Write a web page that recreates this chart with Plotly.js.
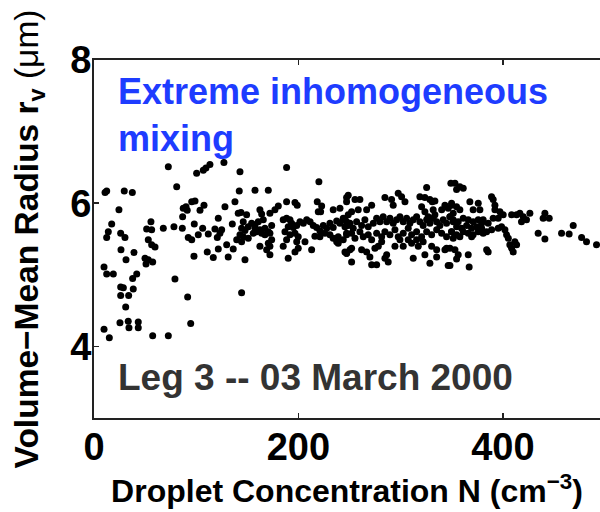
<!DOCTYPE html>
<html>
<head>
<meta charset="utf-8">
<script src="https://cdn.plot.ly/plotly-3.0.1.min.js"></script>
<style>
html,body{margin:0;padding:0;background:#fff;overflow:hidden;}
#chart{width:600px;height:512px;}
</style>
</head>
<body>
<div id="chart"></div>
<script>
// Droplet concentration N (cm^-3)
const concentration = [
72.7,80.9,100.4,106.9,109.5,113.4,127.1,142.8,10.8,12.4,29.6,37.5,24.4,17.3,14.0,12.4,26.1,30.3,26.4,31.3,
39.1,9.8,12.4,18.9,37.8,41.8,26.1,28.7,38.4,26.1,33.9,31.0,25.4,33.5,34.2,43.3,43.3,9.8,15.0,57.4,
72.7,55.7,51.5,56.4,53.1,56.4,59.7,49.9,53.1,50.9,57.4,67.8,78.2,86.4,79.2,91.6,94.6,87.3,90.0,91.2,
86.7,95.6,98.8,103.7,107.6,98.1,92.2,95.6,102.0,106.3,111.8,118.3,121.6,97.8,110.8,116.7,121.6,120.6,123.2,124.9,
128.1,135.3,137.9,129.8,131.3,136.2,139.6,141.1,143.8,142.1,157.5,144.4,147.7,
188.4,220.0,170.5,188.4,196.6,198.8,218.4,222.7,219.4,221.7,247.1,234.0,240.6,149.3,162.3,164.0,165.6,160.7,157.5,172.1,
177.0,180.3,146.0,144.4,147.7,150.9,154.2,157.5,162.3,167.2,170.5,173.8,142.8,146.0,150.9,144.4,155.8,159.1,164.0,167.2,
172.1,173.8,170.5,172.1,168.9,172.1,162.3,185.1,188.4,191.7,193.3,190.0,194.9,198.3,201.5,204.8,208.1,211.4,214.5,186.8,
191.7,196.6,199.8,198.3,188.4,185.1,190.0,196.6,199.8,206.4,212.9,217.8,221.0,224.3,227.6,230.8,234.0,237.4,240.6,243.8,
247.1,248.7,216.1,221.0,225.9,230.8,234.0,238.9,243.8,247.1,237.4,238.9,245.5,247.1,250.4,
349.1,325.4,318.8,323.7,328.6,330.9,333.5,248.7,247.1,255.3,260.1,284.6,291.1,297.6,300.9,304.2,292.7,271.6,266.7,258.5,
252.0,248.7,245.5,343.3,349.8,346.5,340.1,320.5,323.7,331.8,333.5,326.9,
245.5,250.4,253.6,256.9,261.8,265.0,268.3,273.2,276.5,279.7,282.9,286.3,289.5,292.7,296.0,299.3,302.5,305.8,309.0,312.3,
315.6,318.8,322.0,325.4,328.6,331.8,335.2,338.4,341.6,344.9,348.2,351.4,
247.1,252.0,255.3,260.1,263.4,268.3,271.6,276.5,281.4,284.6,289.5,294.4,297.6,302.5,307.4,310.7,315.6,320.5,325.4,330.3,
335.2,340.1,344.9,349.8,
247.1,252.0,252.0,261.8,266.7,269.9,271.6,276.5,274.8,278.1,284.6,286.3,287.8,294.4,299.3,302.5,310.7,312.3,317.2,323.7,
328.6,330.3,335.2,335.2,343.3,344.9,346.5,315.6,322.0,307.4,281.4,
353.1,357.9,361.2,354.7,388.9,390.5,392.2,367.7,375.9,370.9,377.5,349.8,354.7,357.9,351.4,348.2,392.2,397.1,400.3,395.4,
390.5,408.5,413.4,416.6,419.9,426.4,423.1,418.2,441.1,439.4,445.3,468.8,434.5,441.1,457.4,464.8,477.0,481.8,491.6,380.7,
385.6,379.2,384.1,389.0,395.4,398.7,402.0,403.6,405.3,406.8,408.5,411.7,413.4,410.1,384.1,385.6,366.1,356.3,354.7,367.0,
348.2,348.2,353.1,369.4,
351.4,356.3,361.2,366.1,370.9,375.9,354.7,359.6,364.5,369.4,374.3,379.2,349.8,354.7,361.2,366.1,370.9,375.9,380.7,351.4,
357.9
];
// Volume-mean radius r_v (um)
const radius = [
6.51,6.23,6.42,6.46,6.49,6.54,6.57,6.44,6.15,6.17,6.17,6.15,5.91,5.71,5.60,5.52,5.58,5.52,5.35,5.21,
5.31,5.11,5.01,5.01,4.95,5.01,4.83,4.82,4.80,4.71,4.71,4.55,4.33,4.35,4.26,4.34,4.26,4.24,4.12,4.15,
4.15,5.74,5.64,5.63,5.49,5.42,5.39,5.23,5.21,5.15,5.18,5.65,5.67,5.65,4.94,4.69,4.32,5.93,5.95,5.90,
5.81,6.02,6.03,5.90,5.97,5.71,5.52,5.49,5.56,5.65,5.57,5.64,5.79,5.26,5.32,5.24,5.36,5.52,5.58,5.63,
5.95,5.71,6.02,5.42,5.25,5.36,5.49,5.86,5.87,6.17,6.18,4.75,5.21,
6.50,6.30,6.18,6.02,6.01,5.97,6.02,5.96,5.88,5.88,6.08,5.91,5.93,5.84,5.91,5.85,5.77,5.74,5.70,5.86,
5.91,5.96,5.74,5.65,5.62,5.67,5.72,5.65,5.63,5.65,5.60,5.69,5.56,5.53,5.51,5.46,5.58,5.60,5.58,5.56,
5.58,5.49,5.44,5.40,5.35,5.28,5.40,5.77,5.79,5.77,5.72,5.67,5.66,5.69,5.74,5.72,5.77,5.74,5.69,5.60,
5.56,5.58,5.53,5.46,5.49,5.40,5.23,5.32,5.37,5.46,5.35,5.66,5.61,5.69,5.65,5.72,5.66,5.75,5.72,5.79,
5.74,5.69,5.54,5.53,5.58,5.56,5.51,5.53,5.49,5.58,5.46,5.44,5.32,5.30,5.35,
6.28,6.22,6.09,6.08,6.05,6.02,6.03,6.11,6.02,6.05,6.05,6.08,6.05,6.14,6.09,6.02,5.97,5.97,5.91,5.91,
5.88,5.84,5.77,5.97,6.00,5.93,5.91,5.95,5.88,5.91,5.84,5.81,
5.67,5.72,5.65,5.74,5.69,5.77,5.67,5.72,5.79,5.74,5.81,5.74,5.79,5.72,5.77,5.81,5.74,5.79,5.72,5.77,
5.81,5.74,5.69,5.77,5.72,5.79,5.74,5.69,5.77,5.72,5.81,5.74,
5.56,5.58,5.51,5.60,5.53,5.56,5.49,5.58,5.53,5.60,5.56,5.63,5.53,5.58,5.65,5.56,5.60,5.53,5.60,5.56,
5.63,5.58,5.53,5.60,
5.30,5.37,5.18,5.35,5.32,5.25,5.14,5.14,5.37,5.40,5.23,5.28,5.18,5.40,5.49,5.40,5.44,5.23,5.40,5.28,
5.16,5.40,5.35,5.25,5.35,5.37,5.13,5.49,5.46,5.49,5.46,
6.28,6.23,6.21,6.19,6.09,6.05,5.97,6.02,6.00,5.91,5.91,5.97,5.95,5.91,5.86,5.81,5.91,5.88,5.84,5.79,
5.79,5.84,5.84,5.86,5.81,5.86,5.77,5.74,5.86,5.79,5.79,5.69,5.58,5.50,5.58,5.57,5.52,5.46,5.42,5.77,
5.72,5.65,5.60,5.63,5.65,5.67,5.63,5.56,5.51,5.42,5.37,5.46,5.42,5.32,5.35,5.32,5.28,5.28,5.22,5.11,
5.13,5.37,5.35,5.53,
5.77,5.74,5.79,5.77,5.74,5.77,5.67,5.65,5.69,5.65,5.67,5.72,5.60,5.56,5.60,5.58,5.56,5.60,5.58,5.51,
5.53
];
const xTickVals = [0, 200, 400];
const xTickText = ['0', '200', '400'];
const yTickVals = [4, 6, 8];
const yTickText = ['4', '6', '8'];

const FONT = 'Liberation Sans, Arial, Helvetica, sans-serif';

const trace = {
  type: 'scatter', mode: 'markers',
  x: concentration, y: radius,
  marker: {color: '#000', size: 7, line: {width: 0}},
  hoverinfo: 'skip'
};

const layout = {
  width: 600, height: 512,
  margin: {l: 94, r: 0, t: 60, b: 94, pad: 0},
  paper_bgcolor: '#fff', plot_bgcolor: '#fff',
  showlegend: false,
  font: {family: FONT, color: '#000'},
  xaxis: {
    range: [0, 495], tickmode: 'array', tickvals: xTickVals, ticktext: xTickText,
    ticks: 'inside', ticklen: 5, tickwidth: 1.5, tickcolor: '#222',
    showline: true, linecolor: '#222', linewidth: 2, mirror: 'ticks',
    showgrid: false, zeroline: false, automargin: false,
    tickfont: {family: FONT, size: 38, weight: 'bold', color: '#000'},
    ticklabelstandoff: -6,
    title: {text: 'Droplet Concentration N (cm<sup>−3</sup>)', standoff: 13,
            font: {family: FONT, size: 32, weight: 'bold', color: '#000'}}
  },
  yaxis: {
    range: [3, 8], tickmode: 'array', tickvals: yTickVals, ticktext: yTickText,
    ticks: 'inside', ticklen: 5, tickwidth: 1.5, tickcolor: '#222',
    showline: true, linecolor: '#222', linewidth: 2, mirror: false,
    showgrid: false, zeroline: false, automargin: false,
    tickfont: {family: FONT, size: 38, weight: 'bold', color: '#000'},
    ticklabelstandoff: -7,
    title: {text: '<b>Volume−Mean Radius r<sub>v</sub></b> (μm)', standoff: 22,
            font: {family: FONT, size: 33.5, weight: 'normal', color: '#000'}}
  },
  annotations: [
    {xref: 'paper', yref: 'paper', x: 0.043, y: 0.845, xanchor: 'left', yanchor: 'middle', align: 'left',
     showarrow: false, text: 'Extreme inhomogeneous<br>mixing',
     font: {family: FONT, size: 36, weight: 'bold', color: '#1E3CFF'}},
    {xref: 'paper', yref: 'paper', x: 0.043, y: 0.114, xanchor: 'left', yanchor: 'middle', align: 'left',
     showarrow: false, text: 'Leg 3 -- 03 March 2000',
     font: {family: FONT, size: 37, weight: 'bold', color: '#333'}}
  ]
};

Plotly.newPlot('chart', [trace], layout, {displayModeBar: false, staticPlot: true});
</script>
</body>
</html>
